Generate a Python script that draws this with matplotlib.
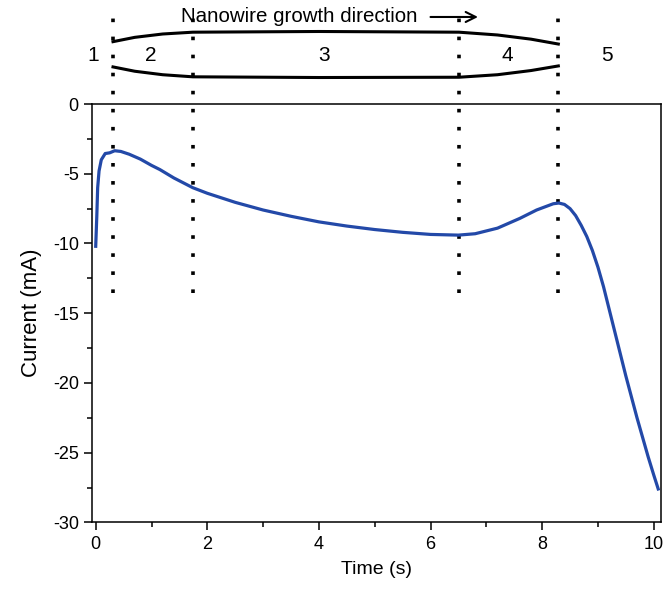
import numpy as np
import matplotlib
matplotlib.use('Agg')
import matplotlib.pyplot as plt

plt.rcParams['font.family'] = ['Liberation Sans', 'DejaVu Sans']

# current transient
time_s = [0.0, 0.02, 0.035, 0.06, 0.1, 0.17, 0.25, 0.34, 0.45, 0.6, 0.8,
          1.0, 1.15, 1.4, 1.74, 2.0, 2.5, 3.0, 3.5, 4.0, 4.5, 5.0, 5.5,
          6.0, 6.5, 6.8, 7.2, 7.6, 7.9, 8.1, 8.2, 8.3, 8.4, 8.5, 8.6,
          8.7, 8.8, 8.9, 9.0, 9.1, 9.2, 9.3, 9.4, 9.5, 9.6, 9.7, 9.8,
          9.9, 10.0, 10.08]
current_ma = [-10.2, -8.0, -6.0, -4.8, -4.0, -3.55, -3.5, -3.35, -3.4,
              -3.6, -3.95, -4.4, -4.7, -5.3, -6.0, -6.4, -7.05, -7.6,
              -8.05, -8.45, -8.75, -9.0, -9.2, -9.35, -9.4, -9.3, -8.9,
              -8.2, -7.6, -7.3, -7.15, -7.1, -7.2, -7.5, -8.0, -8.7,
              -9.5, -10.5, -11.7, -13.1, -14.7, -16.3, -17.9, -19.5,
              -21.0, -22.5, -23.9, -25.3, -26.6, -27.6]

# region borders and labels
borders = [0.31, 1.74, 6.51, 8.29]
region_labels = ['1', '2', '3', '4', '5']
region_x = [-0.05, 0.99, 4.1, 7.37, 9.16]

# nanowire outline sketched above the plot
wire_x = [0.31, 0.7, 1.2, 1.74, 4.0, 6.51, 7.2, 7.8, 8.29]
wire_top = [4.47, 4.78, 5.02, 5.15, 5.2, 5.15, 4.95, 4.65, 4.3]
wire_bot = [2.66, 2.35, 2.1, 1.95, 1.9, 1.92, 2.1, 2.4, 2.73]

fig = plt.figure(figsize=(6.63, 5.91), dpi=100)
ax = fig.add_axes([0.1388, 0.116, 0.8582, 0.708])

ax.plot(time_s, current_ma, color='#2349a8', lw=2.3, zorder=3)

ax.vlines(borders, -13.55, 6.4, colors='black', lw=2.6,
          linestyles=(0, (1, 4)), clip_on=False, zorder=2)

ax.plot(wire_x, wire_top, color='black', lw=2.2, clip_on=False)
ax.plot(wire_x, wire_bot, color='black', lw=2.2, clip_on=False)

for lab, x in zip(region_labels, region_x):
    ax.text(x, 3.45, lab, fontsize=15, ha='center', va='center',
            clip_on=False)

ax.text(3.64, 6.24, 'Nanowire growth direction', fontsize=14.8,
        ha='center', va='center', clip_on=False)
ax.annotate('', xy=(6.9, 6.24), xytext=(5.95, 6.24),
            arrowprops=dict(arrowstyle='->', lw=1.5, mutation_scale=18),
            annotation_clip=False)

ax.set_xlim(-0.066, 10.13)
ax.set_ylim(-30, 0)
ax.set_xticks([0, 2, 4, 6, 8, 10])
ax.set_xticks([1, 3, 5, 7, 9], minor=True)
ax.set_yticks([0, -5, -10, -15, -20, -25, -30])
ax.set_yticks([-2.5, -7.5, -12.5, -17.5, -22.5, -27.5], minor=True)
ax.set_yticklabels(['0', '-5', '-10', '-15', '-20', '-25', '-30'])
ax.tick_params(direction='out', length=6, width=1.1, labelsize=13)
ax.tick_params(which='minor', direction='out', length=3.5, width=1.1)
for s in ax.spines.values():
    s.set_linewidth(1.1)

ax.set_xlabel('Time (s)', fontsize=14, labelpad=6)
ax.set_ylabel('Current (mA)', fontsize=16, labelpad=8)

fig.savefig('out.png', dpi=100)
